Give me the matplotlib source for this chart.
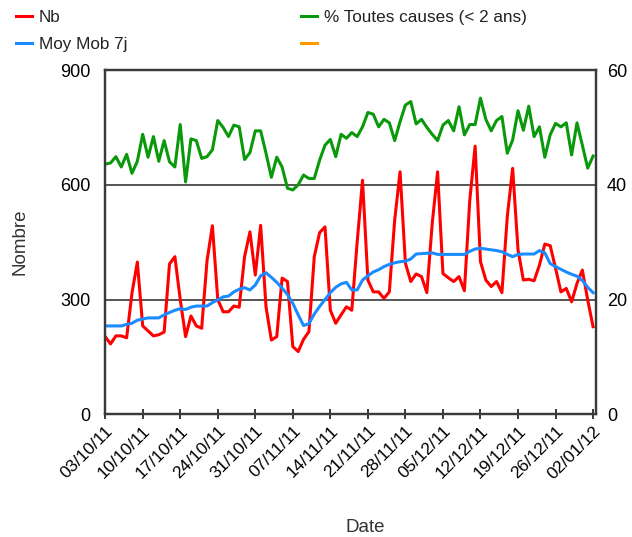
import pandas as pd
import matplotlib
matplotlib.use("Agg")
import matplotlib.pyplot as plt
from matplotlib.lines import Line2D

plt.rcParams["font.family"] = ["Liberation Sans", "DejaVu Sans"]

dates = pd.date_range("2011-10-03", "2012-01-02", freq="D")

nb = [203, 184, 205, 205, 200, 317, 398, 231, 218, 205,
      208, 215, 393, 412, 300, 203, 257, 231, 225, 402,
      493, 300, 268, 268, 283, 280, 412, 477, 364, 494,
      281, 194, 203, 356, 347, 177, 164, 196, 216, 412,
      475, 490, 272, 238, 260, 281, 272, 450, 612, 351,
      320, 320, 303, 320, 508, 634, 395, 347, 367, 360,
      318, 499, 634, 368, 357, 347, 360, 323, 559, 701,
      399, 351, 334, 347, 318, 517, 643, 430, 351, 353,
      349, 390, 445, 441, 382, 320, 329, 294, 342, 377,
      299, 229]

moy_mob = [231, 231, 231, 231, 235, 238, 246, 249, 252, 252,
           252, 260, 266, 272, 276, 274, 280, 283, 283, 283,
           292, 299, 307, 309, 320, 327, 331, 325, 338, 362,
           370, 358, 345, 330, 313, 290, 260, 232, 237, 262,
           282, 300, 318, 332, 341, 345, 325, 325, 351, 362,
           372, 378, 386, 392, 396, 399, 400, 406, 419, 420,
           421, 422, 418, 418, 418, 418, 418, 418, 426, 432,
           434, 432, 430, 428, 425, 418, 412, 418, 419, 419,
           419, 428, 422, 394, 386, 379, 372, 366, 361, 350,
           332, 318]

pct_toutes = [43.6, 43.8, 44.9, 43.1, 45.3, 42.0, 44.1, 48.8, 44.8, 48.4,
              44.1, 47.7, 44.0, 43.1, 50.5, 40.5, 48.0, 47.7, 44.6, 44.9,
              46.1, 51.2, 50.0, 48.4, 50.4, 50.1, 44.4, 45.6, 49.4, 49.4,
              45.5, 41.3, 44.8, 43.1, 39.4, 39.1, 40.0, 41.7, 41.1, 41.1,
              44.3, 46.9, 47.9, 44.9, 48.8, 48.1, 49.1, 48.4, 50.1, 52.6,
              52.3, 50.1, 51.4, 50.8, 47.7, 51.0, 53.9, 54.5, 50.6, 51.4,
              50.0, 48.8, 47.7, 50.4, 51.2, 49.4, 53.6, 48.7, 50.5, 50.5,
              55.1, 51.4, 49.4, 51.2, 51.9, 45.5, 47.8, 52.9, 49.5, 53.7,
              48.4, 50.1, 44.8, 48.7, 50.7, 50.1, 50.8, 45.2, 50.8, 46.9,
              42.9, 45.0]

tick_labels = ["03/10/11", "10/10/11", "17/10/11", "24/10/11", "31/10/11",
               "07/11/11", "14/11/11", "21/11/11", "28/11/11", "05/12/11",
               "12/12/11", "19/12/11", "26/12/11", "02/01/12"]

RED = "#ff0000"
BLUE = "#1a8cff"
GREEN = "#0a990a"
ORANGE = "#ff9900"
AXC = "#3a3a3a"

fig = plt.figure(figsize=(6.32, 5.37), dpi=100)
ax = fig.add_axes([0.1657, 0.2285, 0.7773, 0.6411])
ax2 = ax.twinx()

for y in [300, 600]:
    ax.axhline(y, color="#555555", lw=1.4, zorder=1)

ax.plot(dates, nb, color=RED, lw=2.2, zorder=3)
ax.plot(dates, moy_mob, color=BLUE, lw=2.2, zorder=4)
ax2.plot(dates, pct_toutes, color=GREEN, lw=2.2)

ax.set_ylim(0, 900)
ax2.set_ylim(0, 60)
ax.set_yticks([0, 300, 600, 900])
ax2.set_yticks([0, 20, 40, 60])
ax.set_xlim(dates[0] - pd.Timedelta(hours=2), dates[-1] + pd.Timedelta(hours=13))

ax.set_xticks(dates[::7])
ax.set_xticklabels(tick_labels, rotation=45, ha="right", rotation_mode="anchor")

ax.tick_params(axis="x", direction="inout", length=7, width=1.4, color=AXC,
               labelsize=12.5, pad=3)
ax.tick_params(axis="y", length=0, labelsize=13, pad=10)
ax2.tick_params(axis="y", length=0, labelsize=13, pad=8)

for a in (ax, ax2):
    for s in a.spines.values():
        s.set_color(AXC)
        s.set_linewidth(1.6)

fig.text(0.032, 0.55, "Nombre", rotation=90, ha="center", va="center",
         fontsize=13.5, color="#333333")
fig.text(0.578, 0.017, "Date", ha="center", va="center",
         fontsize=13.5, color="#333333")

h_nb = Line2D([], [], color=RED, lw=2.2)
h_moy = Line2D([], [], color=BLUE, lw=2.2)
h_pct = Line2D([], [], color=GREEN, lw=2.2)
h_or = Line2D([], [], color=ORANGE, lw=2.2)

leg_kw = dict(loc="upper left", frameon=False, fontsize=12.3, handlelength=0.95,
              handletextpad=0.4, borderpad=0, borderaxespad=0,
              labelspacing=0.7, labelcolor="#222222")
fig.legend([h_nb, h_moy], ["Nb", "Moy Mob 7j"],
           bbox_to_anchor=(0.025, 0.981), **leg_kw)
fig.legend([h_pct, h_or], ["% Toutes causes (< 2 ans)", ""],
           bbox_to_anchor=(0.476, 0.981), **leg_kw)

fig.savefig("out.png", dpi=100)
